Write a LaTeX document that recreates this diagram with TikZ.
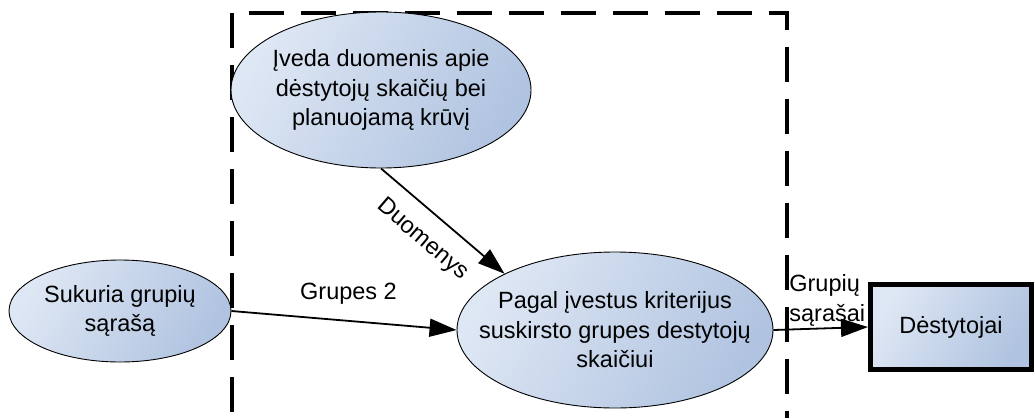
\documentclass[tikz,border=0pt]{standalone}
\usepackage{fontspec}
\setmainfont{Liberation Sans}
\usetikzlibrary{arrows.meta,shapes.geometric}
\definecolor{fillhi}{RGB}{222,231,244}
\definecolor{filllo}{RGB}{176,195,224}
\begin{document}
\begin{tikzpicture}[x=1pt,y=-1pt,
  every node/.style={font=\fontsize{23.5}{29.5}\selectfont},
  proc/.style={ellipse, draw=black, line width=0.9pt, inner sep=0pt,
    left color=fillhi, right color=filllo, shading angle=60},
  txt/.style={align=center, inner sep=0pt},
  ext/.style={rectangle, draw=black, line width=5pt, inner sep=0pt,
    left color=fillhi, right color=filllo, shading angle=60},
  flow/.style={line width=1.8pt, -{Triangle[length=27pt,width=18pt]}},
  lbl/.style={inner sep=0pt},
  frame/.style={line width=3.2pt, dash pattern=on 35pt off 17pt}
]
\useasboundingbox (0,0) rectangle (1035,418);

% system boundary (open at the bottom)
\coordinate (fTL) at (232,13);
\coordinate (fTR) at (787,13);
\coordinate (fBL) at (232,418);
\coordinate (fBR) at (787,418);
\draw[frame] (fTL) -- (fBL);
\draw[frame, dash phase=35pt] (fTL) -- (fTR) -- (fBR);

% processes
\node[proc, minimum width=300pt, minimum height=156pt] (enter) at (381,90) {};
\node[txt] (entertext) at (enter.center) {Įveda duomenis apie\\dėstytojų skaičių bei\\planuojamą krūvį};

\node[proc, minimum width=222pt, minimum height=102pt] (make) at (120,311) {};
\node[txt] (maketext) at (make.center) {Sukuria grupių\\sąrašą};

\node[proc, minimum width=316pt, minimum height=156pt] (split) at (615,330) {};
\node[txt] (splittext) at (split.center) {Pagal įvestus kriterijus\\suskirsto grupes destytojų\\skaičiui};

% external entity
\node[ext, minimum width=161pt, minimum height=85pt] (lect) at (951,327) {Dėstytojai};

% data flows
\draw[flow] (enter.south) -- (split.153)
  node[lbl, sloped, pos=0.48, anchor=north, inner sep=16pt] {Duomenys};
\draw[flow] (make.east) -- (split.west)
  node[lbl, pos=0.52, anchor=south, inner sep=16pt] {Grupes 2};
\draw[flow] (split.east) -- (lect.west)
  node[lbl, pos=0, anchor=south west, xshift=15pt, yshift=3pt, align=left] {Grupių\\sąrašai};
\end{tikzpicture}
\end{document}
